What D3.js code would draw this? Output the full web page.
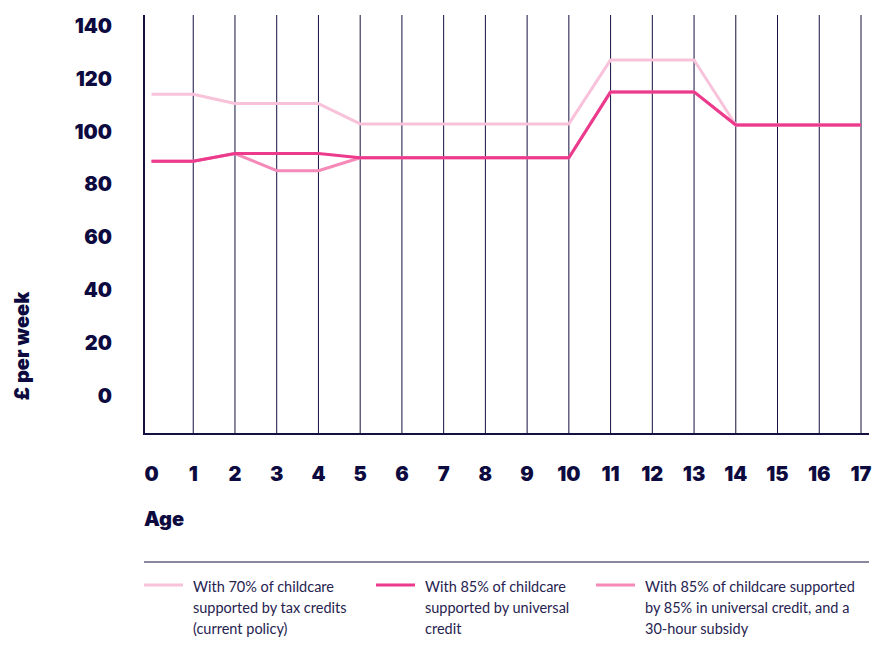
<!DOCTYPE html>
<html>
<head>
<meta charset="utf-8">
<script src="https://cdn.jsdelivr.net/npm/d3@7"></script>
<style>
  body { margin: 0; background: #fff; }
  svg text { fill: #0c0a3e; }
  .tick-label { font-family: Inter, sans-serif; font-weight: 900; font-size: 20px; }
  .legend-text { font-family: Lato, sans-serif; font-size: 14.5px; fill: #26234f; }
</style>
</head>
<body>
<div id="chart"></div>
<script>
// ── DATA ──────────────────────────────────────────────────────
const ages = d3.range(0, 18);
const taxCredits   = [114, 114, 110.5, 110.5, 110.5, 102.8, 102.8, 102.8, 102.8, 102.8, 102.8, 127, 127, 127, 102.4, 102.4, 102.4, 102.4];
const universal    = [88.7, 88.7, 91.6, 91.6, 91.6, 90, 90, 90, 90, 90, 90, 114.9, 114.9, 114.9, 102.4, 102.4, 102.4, 102.4];
const withSubsidy  = [88.7, 88.7, 91.6, 85.1, 85.1, 90, 90, 90, 90, 90, 90, 114.9, 114.9, 114.9, 102.4, 102.4, 102.4, 102.4];
const yTicks = [0, 20, 40, 60, 80, 100, 120, 140];
const seriesNames = [
  ["With 70% of childcare", "supported by tax credits", "(current policy)"],
  ["With 85% of childcare", "supported by universal", "credit"],
  ["With 85% of childcare supported", "by 85% in universal credit, and a", "30-hour subsidy"]
];
const colors = ["#f8c3da", "#ec3b8d", "#f589b8"];

// ── SVG ───────────────────────────────────────────────────────
const W = 874, H = 647;
const svg = d3.select("#chart").append("svg")
  .attr("width", W).attr("height", H);

const x = d3.scaleLinear().domain([0, 17]).range([151.5, 861]);
const y = d3.scaleLinear().domain([-14.5, 144]).range([434, 15]);

const axisLeft = 144, axisRight = 869;
const axisColor = "#14113f";

// vertical grid lines at each age (except 0, where the axis line sits)
svg.append("g")
  .selectAll("line")
  .data(ages.slice(1))
  .join("line")
    .attr("x1", d => x(d)).attr("x2", d => x(d))
    .attr("y1", y(144)).attr("y2", y(-14.5))
    .attr("stroke", axisColor)
    .attr("stroke-width", 1);

// axis lines
svg.append("line")
  .attr("x1", axisLeft).attr("x2", axisLeft)
  .attr("y1", y(144)).attr("y2", y(-14.5))
  .attr("stroke", axisColor).attr("stroke-width", 2);
svg.append("line")
  .attr("x1", axisLeft - 1).attr("x2", axisRight)
  .attr("y1", y(-14.5)).attr("y2", y(-14.5))
  .attr("stroke", axisColor).attr("stroke-width", 2);

// y tick labels
svg.append("g")
  .selectAll("text")
  .data(yTicks)
  .join("text")
    .attr("class", "tick-label")
    .attr("x", 112)
    .attr("y", d => y(d))
    .attr("dy", "0.36em")
    .attr("text-anchor", "end")
    .text(d => d);

// x tick labels
svg.append("g")
  .selectAll("text")
  .data(ages)
  .join("text")
    .attr("class", "tick-label")
    .attr("x", d => x(d))
    .attr("y", 474)
    .attr("dy", "0.36em")
    .attr("text-anchor", "middle")
    .text(d => d);

// axis titles
svg.append("text")
  .attr("class", "tick-label")
  .attr("x", 144).attr("y", 519).attr("dy", "0.36em")
  .text("Age");

svg.append("text")
  .attr("class", "tick-label")
  .attr("transform", "translate(22,346) rotate(-90)")
  .attr("text-anchor", "middle")
  .attr("dy", "0.36em")
  .text("£ per week");

// ── LINES ─────────────────────────────────────────────────────
const line = d3.line()
  .x((d, i) => x(ages[i]))
  .y(d => y(d));

// draw order: pale, subsidy, then universal credit on top
[[taxCredits, 0], [withSubsidy, 2], [universal, 1]].forEach(([vals, ci]) => {
  svg.append("path")
    .datum(vals)
    .attr("d", line)
    .attr("fill", "none")
    .attr("stroke", colors[ci])
    .attr("stroke-width", 3)
    .attr("stroke-linejoin", "round");
});

// ── LEGEND ────────────────────────────────────────────────────
svg.append("line")
  .attr("x1", axisLeft).attr("x2", axisRight)
  .attr("y1", 562).attr("y2", 562)
  .attr("stroke", axisColor).attr("stroke-width", 1);

const legendX = [144, 376, 596];
const legend = svg.append("g")
  .selectAll("g")
  .data(seriesNames)
  .join("g")
    .attr("transform", (d, i) => `translate(${legendX[i]},0)`);

legend.append("line")
  .attr("x1", 0).attr("x2", 39)
  .attr("y1", 585).attr("y2", 585)
  .attr("stroke", (d, i) => colors[i])
  .attr("stroke-width", 3);

legend.each(function(lines) {
  d3.select(this).selectAll("text")
    .data(lines)
    .join("text")
      .attr("class", "legend-text")
      .attr("x", 49)
      .attr("y", (d, j) => 587 + j * 21)
      .attr("dy", "0.36em")
      .text(d => d);
});
</script>
</body>
</html>
